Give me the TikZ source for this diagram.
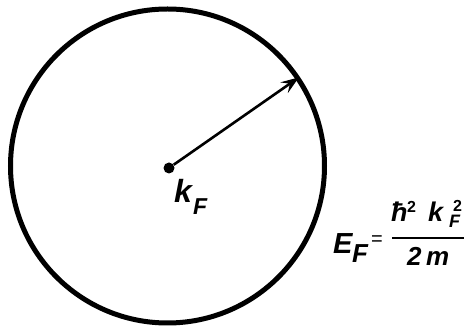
\documentclass[tikz,border=0pt]{standalone}
\usepackage{fontspec}
\setmainfont{Liberation Sans}
\usetikzlibrary{arrows.meta}
\tikzset{
  sphere/.style={circle, draw, line width=5pt, minimum size=314pt, inner sep=0pt},
  centre/.style={circle, fill, minimum size=11pt, inner sep=0pt},
  lbl/.style={anchor=base west, inner sep=0pt, font=\bfseries\itshape},
  radius arrow/.style={line width=2.6pt, -{Stealth[length=18pt,width=13pt,inset=7pt]}, shorten >=1pt}
}
\newcommand{\fsz}[1]{\fontsize{#1}{#1}\selectfont}
\begin{document}
\begin{tikzpicture}[x=1pt,y=-1pt]
\useasboundingbox (0,0) rectangle (464,328);
\node[sphere] (fs) at (167.5,166) {};
\node[centre] (o) at (169,168) {};
\draw[radius arrow] (o) -- (fs.34.9);
% k_F label
\node[lbl] (k) at (174,203) {\fsz{32}k};
\node[lbl] (kf) at (193,215) {\fsz{23}F};
% E_F = hbar^2 k_F^2 / 2m
\node[lbl] (E) at (333,254) {\fsz{29}E};
\node[lbl] (Ef) at (352,263) {\fsz{26}F};
\node[lbl, font=\upshape] (eq) at (371,246) {\fsz{20}=};
\coordinate (barl) at (392,238);
\coordinate (barr) at (470,238);
\draw[line width=2pt] (barl) -- (barr);
\node[lbl] (hb) at (391,222) {\fsz{27}ħ};
\node[lbl, font=\bfseries\upshape] (h2) at (407,213) {\fsz{16}2};
\node[lbl] (kn) at (428,222) {\fsz{27}k};
\node[lbl] (knf) at (449,228) {\fsz{18}F};
\node[lbl, font=\bfseries\upshape] (kn2) at (453,212) {\fsz{16}2};
\node[lbl] (two) at (407,266) {\fsz{26}2};
\node[lbl] (m) at (426,266) {\fsz{26}m};
\end{tikzpicture}
\end{document}
